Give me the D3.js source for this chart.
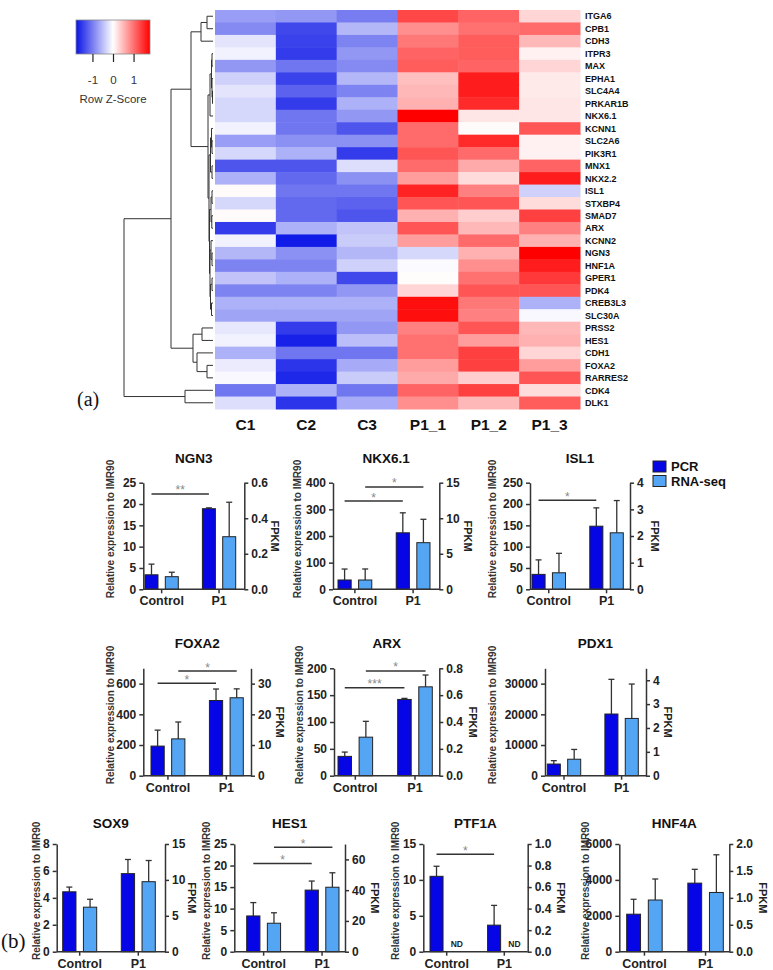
<!DOCTYPE html>
<html><head><meta charset="utf-8">
<script src="https://cdn.jsdelivr.net/npm/d3@7"></script>
<style>
body{margin:0;background:#fff;}
svg{display:block;font-family:"Liberation Sans",Arial,sans-serif;}
</style></head><body>
<svg id="fig" width="773" height="970"></svg>
<script>
// ================= DATA =================
// ---- (a) heatmap ----
const hmCols = ["C1","C2","C3","P1_1","P1_2","P1_3"];
const hmRows = ["ITGA6","CPB1","CDH3","ITPR3","MAX","EPHA1","SLC4A4","PRKAR1B","NKX6.1","KCNN1",
  "SLC2A6","PIK3R1","MNX1","NKX2.2","ISL1","STXBP4","SMAD7","ARX","KCNN2","NGN3",
  "HNF1A","GPER1","PDK4","CREB3L3","SLC30A","PRSS2","HES1","CDH1","FOXA2","RARRES2","CDK4","DLK1"];
const hmZ = [
  [-0.75,-0.8,-1.0, 1.3, 1.1, 0.3],
  [-0.9,-1.4,-0.55, 0.8, 1.0, 1.05],
  [-0.2,-1.45,-0.95, 0.95, 1.15, 0.5],
  [-0.1,-1.5,-0.8, 1.1, 1.15, 0.1],
  [-0.8,-1.05,-0.9, 1.15, 1.1, 0.3],
  [-0.35,-1.45,-0.55, 0.45, 1.6, 0.15],
  [-0.2,-1.2,-0.95, 0.5, 1.6, 0.15],
  [-0.3,-1.5,-0.6, 0.55, 1.5, 0.18],
  [-0.3,-1.05,-0.8, 1.8, 0.18, 0.18],
  [-0.1,-1.05,-1.3, 1.05, 0.03, 1.2],
  [-0.75,-0.85,-0.85, 1.05, 1.5, 0.1],
  [-0.3,-0.6,-1.5, 1.2, 1.05, 0.1],
  [-1.3,-1.3,-0.25, 1.05, 0.6, 1.1],
  [-0.6,-1.15,-0.85, 0.7, 0.25, 1.6],
  [0.03,-1.05,-1.05, 1.55, 0.9,-0.35],
  [-0.3,-1.15,-1.2, 1.2, 1.2, 0.25],
  [0.03,-1.15,-1.3, 0.55, 0.35, 1.35],
  [-1.5,-0.6,-0.45, 1.2, 0.5, 0.9],
  [-0.1,-1.75,-0.4, 0.7, 1.05, 0.55],
  [-0.55,-0.85,-0.55,-0.3, 0.55, 1.8],
  [-0.95,-0.95,-0.35,-0.03, 0.8, 1.6],
  [-0.45,-0.6,-1.4, 0.02, 1.0, 1.4],
  [-0.95,-0.95,-0.8, 0.3, 1.2, 1.2],
  [-0.6,-0.6,-0.6, 1.7, 0.95,-0.6],
  [-0.7,-0.7,-0.7, 1.7, 0.9,-0.05],
  [-0.18,-1.5,-0.8, 0.9, 1.2, 0.5],
  [-0.1,-1.7,-0.5, 1.0, 0.7, 0.55],
  [-0.6,-1.05,-1.05, 1.0, 1.35, 0.3],
  [-0.15,-1.55,-0.65, 0.7, 1.35, 0.7],
  [-0.05,-1.65,-0.4, 0.6, 0.35, 1.2],
  [-1.05,-0.6,-1.05, 1.1, 1.35, 0.25],
  [-0.25,-1.55,-0.65, 0.8, 0.5, 1.15]
];
const zTicks = [-1,0,1];
// row dendrogram: merge heights (arbitrary distance units)
const rowTree = {h:89, c:[
  {h:42, c:[
    {h:22, c:[
      {h:12, c:[{h:6, c:["ITGA6","CPB1"]}, "CDH3"]},
      {h:5, c:[
        {h:3, c:[{h:1.5, c:[{h:1, c:["ITPR3","MAX"]}, {h:1, c:["EPHA1", {h:0.5, c:["SLC4A4","PRKAR1B"]}]}]}, "NKX6.1"]},
        {h:4, c:[
          {h:2.5, c:[{h:1.5, c:["KCNN1", {h:1, c:["SLC2A6","PIK3R1"]}]}, {h:1, c:["MNX1","NKX2.2"]}]},
          {h:3.5, c:[
            {h:2, c:[{h:1, c:["ISL1","STXBP4"]}, {h:1.2, c:["SMAD7","ARX"]}]},
            {h:3, c:[{h:2, c:["KCNN2", {h:1, c:["NGN3","HNF1A"]}]}, {h:2.5, c:[{h:1, c:["GPER1","PDK4"]}, {h:1.5, c:["CREB3L3","SLC30A"]}]}]}
          ]}
        ]}
      ]}
    ]},
    {h:20, c:[{h:11, c:["PRSS2","HES1"]}, {h:16, c:["CDH1", {h:6, c:["FOXA2","RARRES2"]}]}]}
  ]},
  {h:28, c:["CDK4","DLK1"]}
]};

// ---- (b) bar charts ----
const barGenes = ["NGN3","NKX6.1","ISL1","FOXA2","ARX","PDX1","SOX9","HES1","PTF1A","HNF4A"];
const barGroups = ["Control","P1"];
const barSeries = ["PCR","RNA-seq"];
const pcrMean  = [[3.4,18.9],[35,212],[35,148],[193,490],[36,142],[3800,20100],[4.45,5.8],[8.3,14.3],[10.5,3.7],[2090,3820]];
const pcrUpper = [[5.9,19.1],[76,287],[69,191],[297,565],[44,144],[4900,31400],[4.8,6.85],[11.4,16.4],[11.9,6.45],[2920,4590]];
const rnaMean  = [[0.071,0.296],[1.31,6.56],[0.62,2.12],[12.0,25.4],[0.287,0.662],[0.69,2.4],[6.2,9.75],[18.5,41.9],[null,null],[0.96,1.1]];
const rnaUpper = [[0.096,0.49],[2.86,9.85],[1.35,3.33],[17.5,28.3],[0.405,0.75],[1.1,3.84],[7.3,12.7],[25.3,51.3],[null,null],[1.35,1.8]];
const leftMax  = [25,400,250,700,200,35000,8,25,15,6000];
const rightMax = [0.6,15,4,35,0.8,4.5,15,70,1.0,2.0];
const leftTicks = [[0,5,10,15,20,25],[0,100,200,300,400],[0,50,100,150,200,250],[0,200,400,600],[0,50,100,150,200],
  [0,10000,20000,30000],[0,2,4,6,8],[0,5,10,15,20,25],[0,5,10,15],[0,2000,4000,6000]];
const rightTicks = [[0,0.2,0.4,0.6],[0,5,10,15],[0,1,2,3,4],[0,10,20,30],[0,0.2,0.4,0.6,0.8],
  [0,1,2,3,4],[0,5,10,15],[0,20,40,60],[0,0.2,0.4,0.6,0.8,1.0],[0,0.5,1.0,1.5,2.0]];
// significance: series index, height in that series' units, label
const sigMarks = [
  [{s:0,v:22.35,t:"**"}],
  [{s:0,v:331,t:"*"},{s:1,v:14.4,t:"*"}],
  [{s:0,v:209,t:"*"}],
  [{s:0,v:602,t:"*"},{s:1,v:34.1,t:"*"}],
  [{s:0,v:164,t:"***"},{s:1,v:0.78,t:"*"}],
  [],[],
  [{s:0,v:20.5,t:"*"},{s:1,v:67.9,t:"*"}],
  [{s:0,v:13.56,t:"*"}],
  []
];
const yTitle = "Relative expression to IMR90";
const yTitleR = "FPKM";

// ================= LAYOUT / STYLE =================
const svg = d3.select("#fig");
const AX = "#333";
const seriesColor = ["#0505e6","#55a5f5"];

// ---------- heatmap ----------
const hmX = d3.scaleBand().domain(hmCols).range([215,580]);
const hmY = d3.scaleBand().domain(hmRows).range([10,409]);
const zColor = d3.scaleLinear().domain([-1.8,0,1.8]).range(["#0a14e6","#ffffff","#ff0000"]).clamp(true);

const cells = [];
hmRows.forEach((r,i)=>hmCols.forEach((c,j)=>cells.push({r,c,z:hmZ[i][j]})));
svg.append("g").selectAll("rect").data(cells).join("rect")
  .attr("x",d=>hmX(d.c)).attr("y",d=>hmY(d.r))
  .attr("width",hmX.bandwidth()+0.5).attr("height",hmY.bandwidth()+0.5)
  .attr("fill",d=>zColor(d.z));

svg.append("g").selectAll("text").data(hmRows).join("text")
  .attr("x",585).attr("y",d=>hmY(d)+hmY.bandwidth()/2).attr("dy","0.36em")
  .attr("font-size","9px").attr("font-weight","bold").attr("fill","#111").text(d=>d);

svg.append("g").selectAll("text").data(hmCols).join("text")
  .attr("x",d=>hmX(d)+hmX.bandwidth()/2).attr("y",430).attr("text-anchor","middle")
  .attr("font-size","15.5px").attr("font-weight","bold").attr("fill","#111").text(d=>d);

// dendrogram
const xDen = d3.scaleLinear().domain([0,89]).range([213,124]);
function place(n){
  if(typeof n==="string") return {y:hmY(n)+hmY.bandwidth()/2, h:0, leaf:true};
  const kids = n.c.map(place);
  return {y:(kids[0].y+kids[kids.length-1].y)/2, h:n.h, kids};
}
const root = place(rowTree);
const dg = svg.append("g").attr("stroke","#333").attr("stroke-width",1).attr("fill","none");
(function draw(n){
  if(n.leaf) return;
  dg.append("line").attr("x1",xDen(n.h)).attr("x2",xDen(n.h))
    .attr("y1",n.kids[0].y).attr("y2",n.kids[n.kids.length-1].y);
  n.kids.forEach(k=>{
    dg.append("line").attr("x1",xDen(n.h)).attr("x2",xDen(k.h)).attr("y1",k.y).attr("y2",k.y);
    draw(k);
  });
})(root);

// color key
const defs = svg.append("defs");
const grad = defs.append("linearGradient").attr("id","zgrad");
[[0,zColor(-1.8)],[0.5,zColor(0)],[1,zColor(1.8)]].forEach(([o,c])=>
  grad.append("stop").attr("offset",o).attr("stop-color",c));
const zx = d3.scaleLinear().domain([-1.8,1.8]).range([76,150]);
svg.append("rect").attr("x",76).attr("y",20).attr("width",74).attr("height",34)
  .attr("fill","url(#zgrad)").attr("stroke","#888").attr("stroke-width",0.8);
const zAxis = svg.append("g").attr("transform","translate(0,54)")
  .call(d3.axisBottom(zx).tickValues(zTicks).tickSize(8).tickPadding(14).tickFormat(d=>String(d)));
zAxis.select(".domain").remove();
zAxis.selectAll("line").attr("stroke","#222").attr("stroke-width",1.2);
zAxis.selectAll("text").attr("font-size","11.5px").attr("fill","#333")
  .style("font-family","'Liberation Sans',Arial,sans-serif");
svg.append("text").attr("x",113).attr("y",103).attr("text-anchor","middle")
  .attr("font-size","11.5px").attr("fill","#333").text("Row Z-Score");

svg.append("text").attr("x",77).attr("y",406).attr("font-family","'Liberation Serif',serif")
  .attr("font-size","20px").attr("fill","#111").text("(a)");
svg.append("text").attr("x",1).attr("y",948).attr("font-family","'Liberation Serif',serif")
  .attr("font-size","21px").attr("fill","#111").text("(b)");

// ---------- bar charts ----------
const rowsY = [{top:482.7,bot:589.3,title:463},{top:668.3,bot:775.7,title:648},{top:844,bot:951.7,title:828}];
const layout = [
  {row:0,x0:143.3,x1:244.3,b0:145,b1:235.7,yl:110,fl:275},
  {row:0,x0:333,x1:439.3,b0:338,b1:430,yl:297,fl:468.3},
  {row:0,x0:530,x1:630,b0:532,b1:623.3,yl:492,fl:655},
  {row:1,x0:143.3,x1:251,b0:151,b1:243.3,yl:110,fl:280},
  {row:1,x0:334,x1:439.3,b0:338,b1:432.3,yl:299,fl:472.7},
  {row:1,x0:545,x1:646,b0:547.3,b1:638.3,yl:492,fl:668.3},
  {row:2,x0:56.7,x1:165,b0:62.7,b1:155.3,yl:36.7,fl:191.7},
  {row:2,x0:234.3,x1:345,b0:246.7,b1:339,yl:206.7,fl:375},
  {row:2,x0:423.3,x1:527.7,b0:430,b1:521,yl:395,fl:561},
  {row:2,x0:619.3,x1:729.3,b0:626.7,b1:723.3,yl:585,fl:762.7}
];
const fmtFor = t => t.some(v=>!Number.isInteger(v)) ? d3.format(".1f") : d3.format("d");

function styleAxis(g){
  g.selectAll(".domain").attr("stroke",AX).attr("stroke-width",1.5);
  g.selectAll(".tick line").attr("stroke",AX).attr("stroke-width",1.5);
  g.selectAll("text").attr("font-size","12px").attr("font-weight","bold").attr("fill","#222")
   .style("font-family","'Liberation Sans',Arial,sans-serif");
}

barGenes.forEach((gene,i)=>{
  const L = layout[i], R = rowsY[L.row];
  const g = svg.append("g");
  const xG = d3.scaleBand().domain(barGroups).range([L.b0,L.b1]).paddingInner(0.42).paddingOuter(0);
  const xS = d3.scaleBand().domain(barSeries).range([0,xG.bandwidth()]).paddingInner(0.36);
  const yL = d3.scaleLinear().domain([0,leftMax[i]]).range([R.bot,R.top]);
  const yR = d3.scaleLinear().domain([0,rightMax[i]]).range([R.bot,R.top]);
  const scales = [yL,yR];
  const means = [pcrMean[i], rnaMean[i]], uppers = [pcrUpper[i], rnaUpper[i]];

  // bars + error bars
  barSeries.forEach((s,si)=>{
    barGroups.forEach((grp,gi)=>{
      const m = means[si][gi], u = uppers[si][gi];
      const cx = xG(grp)+xS(s)+xS.bandwidth()/2;
      if(m==null){
        g.append("text").attr("x",cx).attr("y",R.bot-5).attr("text-anchor","middle")
          .attr("font-size","8.5px").attr("font-weight","bold").attr("fill","#222").text("ND");
        return;
      }
      const y = scales[si];
      g.append("line").attr("x1",cx).attr("x2",cx).attr("y1",y(m)).attr("y2",y(u))
        .attr("stroke",AX).attr("stroke-width",1.3);
      g.append("line").attr("x1",cx-3).attr("x2",cx+3).attr("y1",y(u)).attr("y2",y(u))
        .attr("stroke",AX).attr("stroke-width",1.3);
      g.append("rect").attr("x",xG(grp)+xS(s)).attr("y",y(m))
        .attr("width",xS.bandwidth()).attr("height",R.bot-y(m))
        .attr("fill",seriesColor[si]).attr("stroke","#222").attr("stroke-width",1);
    });
  });

  // axes
  const gl = g.append("g").attr("transform",`translate(${L.x0},0)`)
    .call(d3.axisLeft(yL).tickValues(leftTicks[i]).tickSize(4).tickSizeOuter(0).tickFormat(fmtFor(leftTicks[i])));
  styleAxis(gl);
  const gr = g.append("g").attr("transform",`translate(${L.x1},0)`)
    .call(d3.axisRight(yR).tickValues(rightTicks[i]).tickSize(4).tickSizeOuter(0).tickFormat(fmtFor(rightTicks[i])));
  styleAxis(gr);
  const gb = g.append("g").attr("transform",`translate(0,${R.bot})`)
    .call(d3.axisBottom(xG).tickSize(4).tickPadding(3));
  gb.select(".domain").remove();
  styleAxis(gb);
  gb.selectAll("text").attr("font-size","12.5px");
  g.append("line").attr("x1",L.x0).attr("x2",L.x1).attr("y1",R.bot).attr("y2",R.bot)
    .attr("stroke",AX).attr("stroke-width",1.5);

  // significance
  sigMarks[i].forEach(sm=>{
    const s = barSeries[sm.s];
    const xa = xG("Control")+xS(s)+xS.bandwidth()/2, xb = xG("P1")+xS(s)+xS.bandwidth()/2;
    const yy = scales[sm.s](sm.v);
    g.append("line").attr("x1",xa).attr("x2",xb).attr("y1",yy).attr("y2",yy)
      .attr("stroke",AX).attr("stroke-width",1.5);
    g.append("text").attr("x",(xa+xb)/2).attr("y",yy+0.5).attr("text-anchor","middle")
      .attr("font-size","12px").attr("fill","#888").text(sm.t);
  });

  // titles
  g.append("text").attr("x",(L.x0+L.x1)/2).attr("y",R.title).attr("text-anchor","middle")
    .attr("font-size","13.5px").attr("font-weight","bold").attr("fill","#111").text(gene);
  const cy = (R.top+R.bot)/2;
  g.append("text").attr("transform",`translate(${L.yl},${cy-7}) rotate(-90)`)
    .attr("text-anchor","middle").attr("dy","0.35em")
    .attr("font-size","10px").attr("font-weight","bold").attr("fill","#333").text(yTitle);
  g.append("text").attr("transform",`translate(${L.fl},${cy}) rotate(90)`)
    .attr("text-anchor","middle").attr("dy","0.35em")
    .attr("font-size","11px").attr("font-weight","bold").attr("fill","#222").text(yTitleR);
});

// legend
const lg = svg.append("g");
barSeries.forEach((s,si)=>{
  lg.append("rect").attr("x",653).attr("y",461+si*14.5).attr("width",13).attr("height",11)
    .attr("fill",seriesColor[si]).attr("stroke","#222").attr("stroke-width",1);
  lg.append("text").attr("x",671).attr("y",471+si*14.5).attr("font-size","13px")
    .attr("font-weight","bold").attr("fill","#111").text(s);
});
</script>
</body></html>
